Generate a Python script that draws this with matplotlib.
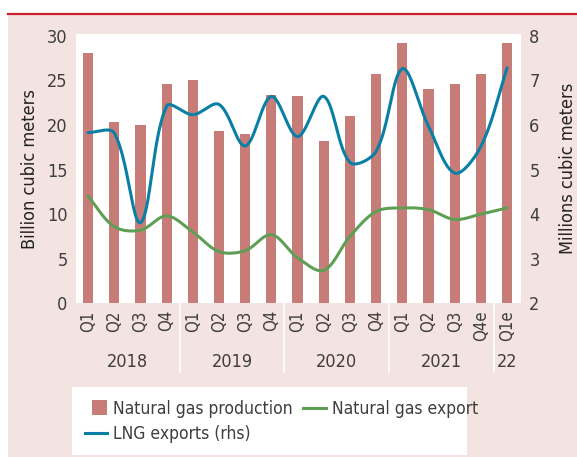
import numpy as np
import matplotlib
matplotlib.use("Agg")
import matplotlib.pyplot as plt
from matplotlib.patches import Rectangle, Patch
from matplotlib.lines import Line2D
from matplotlib.legend_handler import HandlerPatch
import matplotlib.transforms as mtransforms
from matplotlib import font_manager

names = {f.name for f in font_manager.fontManager.ttflist}
fam = 'Liberation Sans Narrow' if 'Liberation Sans Narrow' in names else 'DejaVu Sans'
plt.rcParams['font.family'] = [fam, 'DejaVu Sans']
plt.rcParams['font.stretch'] = 'condensed'

quarters = ["Q1", "Q2", "Q3", "Q4", "Q1", "Q2", "Q3", "Q4", "Q1", "Q2", "Q3", "Q4",
            "Q1", "Q2", "Q3", "Q4e", "Q1e"]
years = ["2018", "2019", "2020", "2021", "22"]
year_sizes = [4, 4, 4, 4, 1]
production = [28.1, 20.3, 20.0, 24.6, 25.0, 19.3, 19.0, 23.4, 23.3, 18.2, 21.0, 25.7,
              29.2, 24.0, 24.6, 25.7, 29.2]
gas_export = [12.0, 8.6, 8.2, 9.8, 8.0, 5.8, 5.9, 7.7, 5.1, 3.7, 7.5, 10.3,
              10.7, 10.5, 9.4, 10.0, 10.7]
lng_exports = [5.83, 5.82, 3.81, 6.42, 6.23, 6.46, 5.53, 6.64, 5.74, 6.64, 5.16, 5.41,
               7.26, 5.97, 4.92, 5.52, 7.28]

BAR = "#c77c78"
BLUE = "#0a7fa5"
GREEN = "#5f9f55"
PINK = "#f3e3e1"
TXT = "#3e3e3e"


def smooth(xs, ys, sx, sy, n=40):
    """Excel-like smoothing: Bezier with chord-length weighted tangents (in pixel space)."""
    P = np.column_stack([np.asarray(xs, float) * sx, np.asarray(ys, float) * sy])
    m = len(P)
    d = np.linalg.norm(np.diff(P, axis=0), axis=1)
    t = np.linspace(0, 1, n)[:, None]
    out = []
    for i in range(m - 1):
        p1, p2 = P[i], P[i + 1]
        d12 = d[i]
        if i > 0:
            c1 = p1 + (p2 - P[i - 1]) * d12 / (3 * (d[i - 1] + d12))
        else:
            c1 = p1 + (p2 - p1) / 3
        if i < m - 2:
            c2 = p2 - (P[i + 2] - p1) * d12 / (3 * (d12 + d[i + 1]))
        else:
            c2 = p2 - (p2 - p1) / 3
        seg = ((1 - t) ** 3) * p1 + 3 * ((1 - t) ** 2) * t * c1 + 3 * (1 - t) * t ** 2 * c2 + t ** 3 * p2
        out.append(seg if i == 0 else seg[1:])
    arr = np.vstack(out)
    return arr[:, 0] / sx, arr[:, 1] / sy


class SquareHandler(HandlerPatch):
    def create_artists(self, legend, orig_handle, xdescent, ydescent, width, height, fontsize, trans):
        s = height * 1.25
        r = Rectangle((width - s - xdescent, -ydescent + (height - s) / 2), s, s,
                      facecolor=orig_handle.get_facecolor(), edgecolor='none', transform=trans)
        return [r]


fig = plt.figure(figsize=(5.77, 4.57), dpi=100)
W, H = 577, 457

fig.patches.append(Rectangle((8 / W, 0), 1 - 8 / W, 1 - 15 / H, transform=fig.transFigure,
                             facecolor=PINK, edgecolor='none', zorder=0))
fig.lines.append(Line2D([8 / W, 1], [1 - 13.7 / H, 1 - 13.7 / H], transform=fig.transFigure,
                        color="#c8202a", lw=1.6, zorder=1))
fig.patches.append(Rectangle((72 / W, 1 - 455 / H), (467 - 72) / W, (455 - 387) / H,
                             transform=fig.transFigure, facecolor='white', edgecolor='none', zorder=1))

ax_w, ax_h = 521 - 76, 303.3 - 34
ax = fig.add_axes([76 / W, 1 - 303.3 / H, ax_w / W, ax_h / H])
ax.set_zorder(2)
ax.set_facecolor('white')
x = np.arange(len(quarters))
xlim = (-0.46, 16.53)
sx = ax_w / (xlim[1] - xlim[0])
ax.bar(x, production, width=0.39, color=BAR, zorder=2)
ylim1 = (0, 30.2)
gx, gy = smooth(x, gas_export, sx, ax_h / (ylim1[1] - ylim1[0]))
ax.plot(gx, gy, color=GREEN, lw=2.2, zorder=3, solid_capstyle='round')
ax.set_ylim(*ylim1)
ax.set_xlim(*xlim)
ax.set_yticks([0, 5, 10, 15, 20, 25, 30])
ax.tick_params(axis='y', length=0, labelsize=13, colors=TXT, pad=6)
ax.set_xticks(x)
ax.set_xticklabels(quarters, rotation=90, fontsize=12, color=TXT)
ax.tick_params(axis='x', length=0, pad=5)
for s in ax.spines.values():
    s.set_visible(False)
ax.set_ylabel("Billion cubic meters", fontsize=13, color='#222222', labelpad=6)

ax2 = ax.twinx()
ax2.set_zorder(3)
ax2.patch.set_visible(False)
ylim2 = (2, 8.04)
lx, ly = smooth(x, lng_exports, sx, ax_h / (ylim2[1] - ylim2[0]))
ax2.plot(lx, ly, color=BLUE, lw=2.2, zorder=4, solid_capstyle='round')
ax2.set_ylim(*ylim2)
ax2.set_yticks([2, 3, 4, 5, 6, 7, 8])
ax2.tick_params(axis='y', length=0, labelsize=13, colors=TXT, pad=6)
for s in ax2.spines.values():
    s.set_visible(False)
ax2.set_ylabel("Millions cubic meters", fontsize=13, color='#222222', labelpad=14)

trans = mtransforms.blended_transform_factory(ax.transData, ax.transAxes)
start = 0
for i, (yr, n) in enumerate(zip(years, year_sizes)):
    center = start + (n - 1) / 2
    ax.text(center, -(361.7 - 303.3) / ax_h, yr, transform=trans, ha='center', va='center',
            fontsize=13, color=TXT)
    if i > 0:
        ax.plot([start - 0.5, start - 0.5], [0, -(372 - 303.3) / ax_h], transform=trans,
                color='white', lw=1.2, clip_on=False)
    start += n

bar_handle = Patch(facecolor=BAR, edgecolor='none')
handles = [bar_handle,
           Line2D([], [], color=BLUE, lw=2.2),
           Line2D([], [], color=GREEN, lw=2.2)]
labels = ["Natural gas production", "LNG exports (rhs)", "Natural gas export"]
leg = fig.legend(handles, labels, ncol=2, loc='upper left',
                 bbox_to_anchor=(76 / W, 1 - 391 / H), frameon=False,
                 fontsize=12.5, handlelength=1.3, handletextpad=0.35,
                 columnspacing=0.6, labelspacing=0.45, borderpad=0.0,
                 handler_map={bar_handle: SquareHandler()})
leg.set_zorder(5)
for t in leg.get_texts():
    t.set_color(TXT)

fig.savefig("out.png", dpi=100)
